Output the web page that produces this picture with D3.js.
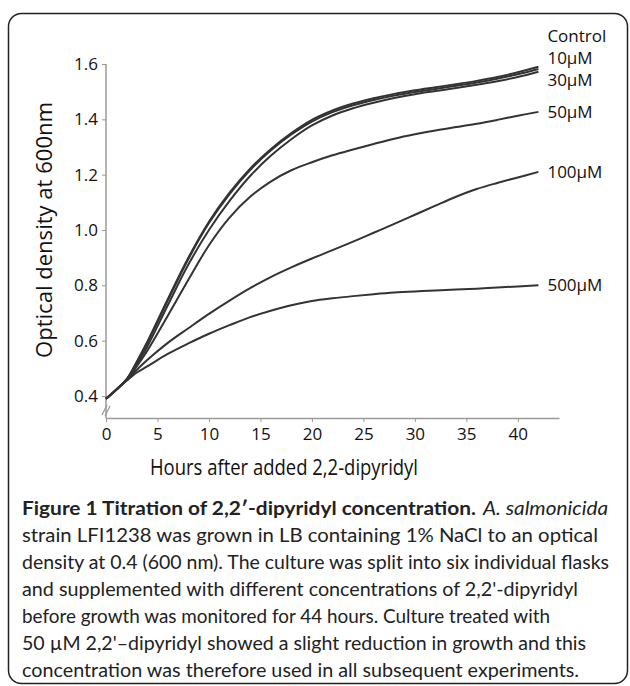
<!DOCTYPE html>
<html><head><meta charset="utf-8">
<script src="https://cdn.jsdelivr.net/npm/d3@7"></script>
<style>
html,body{margin:0;padding:0;background:#fff;}
svg{display:block;font-family:"Open Sans",sans-serif;}
</style></head>
<body>
<svg id="chart" width="630" height="686"></svg>
<script>
// ---- data ----
const hours = [0,1,2,3,4,6,8,10,12,14,16,18,20,22,24,26,28,30,32,34,36,38,40,42];
const seriesNames = ["Control","10μM","30μM","50μM","100μM","500μM"];
const control = [0.39,0.423,0.46,0.525,0.595,0.75,0.90,1.03,1.135,1.222,1.292,1.35,1.398,1.432,1.457,1.476,1.492,1.505,1.516,1.527,1.539,1.553,1.57,1.59];
const uM10    = [0.39,0.423,0.46,0.522,0.59,0.745,0.895,1.025,1.13,1.217,1.287,1.345,1.392,1.426,1.451,1.47,1.486,1.499,1.51,1.521,1.533,1.547,1.563,1.582];
const uM30    = [0.39,0.423,0.46,0.515,0.578,0.728,0.875,1.0,1.105,1.195,1.268,1.328,1.378,1.414,1.44,1.46,1.477,1.491,1.502,1.513,1.525,1.538,1.553,1.572];
const uM50    = [0.39,0.423,0.458,0.508,0.563,0.69,0.82,0.945,1.045,1.12,1.175,1.216,1.245,1.27,1.291,1.311,1.33,1.346,1.36,1.372,1.384,1.398,1.413,1.427];
const uM100   = [0.39,0.423,0.457,0.495,0.53,0.592,0.645,0.697,0.745,0.79,0.83,0.865,0.897,0.927,0.958,0.99,1.022,1.055,1.088,1.12,1.148,1.17,1.19,1.21];
const uM500   = [0.39,0.423,0.455,0.485,0.507,0.552,0.59,0.625,0.656,0.685,0.708,0.728,0.743,0.753,0.761,0.768,0.774,0.778,0.781,0.785,0.788,0.792,0.796,0.80];
const seriesValues = [control,uM10,uM30,uM50,uM100,uM500];
const xTicks = [0,5,10,15,20,25,30,35,40];
const yTicks = [0.4,0.6,0.8,1.0,1.2,1.4,1.6];
const xTitle = "Hours after added 2,2-dipyridyl";
const yTitle = "Optical density at 600nm";
const captionBold = "Figure 1 Titration of 2,2′-dipyridyl concentration.";
const captionItalic = "A. salmonicida";
const captionLines = [
  "strain LFI1238 was grown in LB containing 1% NaCl to an optical",
  "density at 0.4 (600 nm). The culture was split into six individual flasks",
  "and supplemented with different concentrations of 2,2'-dipyridyl",
  "before growth was monitored for 44 hours. Culture treated with",
  "50 µM 2,2'–dipyridyl showed a slight reduction in growth and this",
  "concentration was therefore used in all subsequent experiments."
];

// ---- layout / style ----
const svg = d3.select("#chart");
const axisColor = "#9a9a9a";
const lineColor = "#333";
const x = d3.scaleLinear().domain([0,44]).range([106, 559]);
const y = d3.scaleLinear().domain([0.4,1.6]).range([396, 64]);
const yAxisBottom = 418;

// frame
svg.append("rect").attr("x",8.5).attr("y",13.5).attr("width",619).attr("height",670)
  .attr("rx",13).attr("fill","none").attr("stroke","#222").attr("stroke-width",1.5);

// y axis
const yAxis = svg.append("g").attr("transform",`translate(${x(0)},0)`)
  .call(d3.axisLeft(y).tickValues(yTicks).tickFormat(d3.format(".1f")).tickSize(4).tickPadding(4).tickSizeOuter(0));
yAxis.select(".domain").remove();
yAxis.selectAll(".tick line").attr("stroke",axisColor);
yAxis.selectAll(".tick text").attr("font-size",17).attr("font-family","Open Sans").attr("fill","#111");
svg.append("line").attr("x1",x(0)).attr("x2",x(0)).attr("y1",y(1.6)).attr("y2",yAxisBottom)
  .attr("stroke",axisColor).attr("stroke-width",1.5);
// axis break marks
[[0,0],[3,1]].forEach(([dx,dy])=>{
  svg.append("line").attr("x1",x(0)-4+dx).attr("y1",yAxisBottom-3+dy).attr("x2",x(0)+1+dx).attr("y2",yAxisBottom-13+dy)
    .attr("stroke",axisColor).attr("stroke-width",1.2);
});

// x axis
const xAxis = svg.append("g").attr("transform",`translate(0,${yAxisBottom})`)
  .call(d3.axisBottom(x).tickValues(xTicks).tickSize(4).tickPadding(6).tickSizeOuter(0));
xAxis.select(".domain").attr("stroke",axisColor).attr("stroke-width",1.5);
xAxis.selectAll(".tick line").attr("stroke",axisColor);
xAxis.selectAll(".tick text").attr("font-size",17).attr("font-family","Open Sans").attr("fill","#111");

// titles
svg.append("text").attr("x",284).attr("y",475).attr("text-anchor","middle")
  .attr("font-size",21).attr("fill","#111").attr("textLength",268).attr("lengthAdjust","spacingAndGlyphs").text(xTitle);
svg.append("text").attr("transform","translate(52,230) rotate(-90)").attr("text-anchor","middle")
  .attr("font-size",22).attr("fill","#111").attr("textLength",256).attr("lengthAdjust","spacingAndGlyphs").text(yTitle);

// lines
const line = d3.line().x((d,i)=>x(hours[i])).y(d=>y(d)).curve(d3.curveCatmullRom.alpha(0.5));
seriesValues.forEach(vals=>{
  svg.append("path").datum(vals).attr("d",line).attr("fill","none")
    .attr("stroke",lineColor).attr("stroke-width",2);
});

// labels
const labelShift = {"Control":-30.5,"10μM":-11,"30μM":8};
seriesNames.forEach((name,i)=>{
  const last = seriesValues[i][seriesValues[i].length-1];
  svg.append("text").attr("x",x(hours[hours.length-1])+9)
    .attr("y",y(last)+(labelShift[name]||0)).attr("dy","0.35em")
    .attr("font-size",17).attr("fill","#111").text(name);
});

// caption
const cap = svg.append("g").attr("font-family","Lato, 'Open Sans', sans-serif").attr("fill","#222").attr("font-size",18.5);
const t1 = cap.append("text").attr("y",515);
t1.append("tspan").attr("x",22).attr("font-weight","bold").attr("textLength",454).attr("lengthAdjust","spacingAndGlyphs").text(captionBold);
t1.append("tspan").attr("x",483).attr("font-style","italic").attr("textLength",125).attr("lengthAdjust","spacingAndGlyphs").text(captionItalic);
const lineWidths = [576,587,556,528,564,557];
captionLines.forEach((s,i)=>{
  cap.append("text").attr("x",22).attr("y",542+27*i)
    .attr("textLength",lineWidths[i]).attr("lengthAdjust","spacingAndGlyphs").text(s);
});
</script>
</body></html>
